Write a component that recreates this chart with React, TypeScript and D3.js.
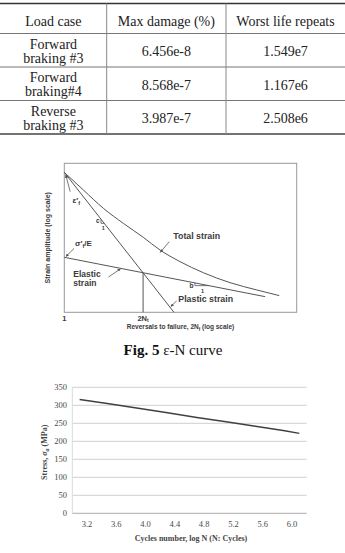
import React from "react";
import * as d3 from "d3";

// ---------- Table data ----------
const tableHeaders = ["Load case", "Max damage (%)", "Worst life repeats"];
const loadCases = [
  ["Forward", "braking #3"],
  ["Forward", "braking#4"],
  ["Reverse", "braking #3"],
];
const maxDamage = ["6.456e-8", "8.568e-7", "3.987e-7"];
const worstLife = ["1.549e7", "1.167e6", "2.508e6"];

// ---------- Schematic e-N curve (arbitrary log units, 0..100) ----------
const plasticLine: [number, number][] = [[0, 93.9], [47.2, 0]];
const elasticLine: [number, number][] = [[0, 36.9], [86.4, 10.5]];
const totalStrain: [number, number][] = [
  [0, 93.9], [8.2, 82.1], [16.8, 69.8], [25.4, 59.7], [34.0, 50.3],
  [41.2, 41.8], [49.8, 34.0], [59.8, 26.6], [71.3, 19.9], [82.8, 15.0], [92.5, 11.2],
];
const transitionLine: [number, number][] = [[33.9, 26.4], [33.9, 0]];

// ---------- S-N chart data ----------
const logN = [3.1, 3.5, 3.9, 4.3, 4.7, 5.1, 5.5, 5.9, 6.1];
const stress = [316, 304, 292, 279, 266, 254, 242, 229, 222];
const xTicks = [3.2, 3.6, 4.0, 4.4, 4.8, 5.2, 5.6, 6.0];
const yTicks = [0, 50, 100, 150, 200, 250, 300, 350];

const serif = "'Liberation Serif', 'Times New Roman', serif";
const sans = "'Liberation Sans', Arial, sans-serif";

export default function App() {
  // table geometry
  const colX = [0, 106.7, 226, 345];
  const rowY = [3.5, 33.5, 67, 100.5, 134];
  const colC = [0, 1, 2].map((i) => (colX[i] + colX[i + 1]) / 2);

  // schematic scales
  const su = d3.scaleLinear().domain([0, 100]).range([64.3, 296.7]);
  const sv = d3.scaleLinear().domain([0, 100]).range([312.3, 163.3]);
  const sLine = d3.line<[number, number]>().x((d) => su(d[0])).y((d) => sv(d[1]));
  const sCurve = d3
    .line<[number, number]>()
    .x((d) => su(d[0]))
    .y((d) => sv(d[1]))
    .curve(d3.curveMonotoneX);

  const pv = (u: number) => 93.9 - (93.9 / 47.2) * u;
  const pu = (v: number) => (93.9 - v) * (47.2 / 93.9);
  const ev = (u: number) => 36.9 - ((36.9 - 10.5) / 86.4) * u;
  const eu = (v: number) => (36.9 - v) * (86.4 / (36.9 - 10.5));
  const cU = 15.8, cV = 59.7;
  const bU = 56.2, bV = 17.9;

  // S-N chart scales
  const x = d3.scaleLinear().domain([3.0, 6.2]).range([72.3, 306.7]);
  const y = d3.scaleLinear().domain([0, 350]).range([513.3, 387.3]);
  const snLine = d3
    .line<number>()
    .x((_, i) => x(logN[i]))
    .y((d) => y(d));

  const labelStyle = { fontFamily: sans, fontWeight: 700, fill: "#3a3a3a" } as const;

  return (
    <svg
      width={345}
      height={553}
      style={{ position: "absolute", left: 0, top: 0, background: "#fff" }}
    >
      <defs>
        <marker id="ah" viewBox="0 0 6 6" refX="5.5" refY="3" markerWidth="4" markerHeight="4" orient="auto">
          <path d="M0,0 L6,3 L0,6 z" fill="#555" />
        </marker>
      </defs>

      {/* ---------------- Table ---------------- */}
      <g>
        <line x1={0} x2={345} y1={rowY[0]} y2={rowY[0]} stroke="#333" strokeWidth={1.6} />
        {[1, 2, 3].map((r) => (
          <line key={r} x1={0} x2={345} y1={rowY[r]} y2={rowY[r]} stroke="#777" strokeWidth={1} />
        ))}
        <line x1={0} x2={345} y1={rowY[4]} y2={rowY[4]} stroke="#444" strokeWidth={1.3} />
        {[1, 2].map((c) => (
          <line key={c} x1={colX[c]} x2={colX[c]} y1={rowY[0]} y2={rowY[4]} stroke="#888" strokeWidth={1} />
        ))}
        {tableHeaders.map((h, i) => (
          <text key={h} x={colC[i]} y={25.5} textAnchor="middle" fontFamily={serif} fontSize={14} fill="#222">
            {h}
          </text>
        ))}
        {loadCases.map((lc, r) => (
          <g key={r}>
            <text x={colC[0]} y={rowY[r + 1] + 15} textAnchor="middle" fontFamily={serif} fontSize={14} fill="#222">
              {lc[0]}
            </text>
            <text x={colC[0]} y={rowY[r + 1] + 29} textAnchor="middle" fontFamily={serif} fontSize={14} fill="#222">
              {lc[1]}
            </text>
            <text x={colC[1]} y={rowY[r + 1] + 22.5} textAnchor="middle" fontFamily={serif} fontSize={14} fill="#222">
              {maxDamage[r]}
            </text>
            <text x={colC[2]} y={rowY[r + 1] + 22.5} textAnchor="middle" fontFamily={serif} fontSize={14} fill="#222">
              {worstLife[r]}
            </text>
          </g>
        ))}
      </g>

      {/* ---------------- Schematic e-N ---------------- */}
      <g>
        <rect x={su(0)} y={sv(100)} width={su(100) - su(0)} height={sv(0) - sv(100)} fill="none" stroke="#999" strokeWidth={1} />
        <path d={sLine(plasticLine) || ""} fill="none" stroke="#555" strokeWidth={1} />
        <path d={sLine(elasticLine) || ""} fill="none" stroke="#555" strokeWidth={1} />
        <path d={sCurve(totalStrain) || ""} fill="none" stroke="#555" strokeWidth={1} />
        <path d={sLine(transitionLine) || ""} fill="none" stroke="#555" strokeWidth={1} />

        {/* slope triangles */}
        <path
          d={`M${su(cU)},${sv(pv(cU))} L${su(cU)},${sv(cV)} L${su(pu(cV))},${sv(cV)}`}
          fill="none" stroke="#555" strokeWidth={0.8}
        />
        <text x={su(cU) - 5} y={sv(cV) - 0.5} fontSize={6.5} {...labelStyle}>c</text>
        <text x={su(cU) + 0.8} y={sv(cV) + 6.5} fontSize={5.5} {...labelStyle}>1</text>

        <path
          d={`M${su(bU)},${sv(ev(bU))} L${su(bU)},${sv(bV)} L${su(eu(bV))},${sv(bV)}`}
          fill="none" stroke="#555" strokeWidth={0.8}
        />
        <text x={su(bU) - 5.5} y={sv(bV) + 2.5} fontSize={6.5} {...labelStyle}>b</text>
        <text x={su(bU) + 6} y={sv(bV) + 7} fontSize={5.5} {...labelStyle}>1</text>

        {/* annotation arrows */}
        <line x1={70.2} y1={191.7} x2={65.8} y2={175} stroke="#555" strokeWidth={0.8} markerEnd="url(#ah)" />
        <line x1={74} y1={248.5} x2={65.9} y2={256.5} stroke="#555" strokeWidth={0.8} markerEnd="url(#ah)" />
        <line x1={108.5} y1={277} x2={120.5} y2={268.8} stroke="#555" strokeWidth={0.8} markerEnd="url(#ah)" />
        <line x1={169.3} y1={241.7} x2={160.3} y2={252.3} stroke="#555" strokeWidth={0.8} markerEnd="url(#ah)" />
        <line x1={176.7} y1={300.7} x2={170.9} y2={306.5} stroke="#555" strokeWidth={0.8} markerEnd="url(#ah)" />

        {/* labels */}
        <text x={72.5} y={203} fontSize={8} {...labelStyle}>
          ε′<tspan fontSize={5.5} dy={2}>f</tspan>
        </text>
        <text x={75} y={246} fontSize={8} {...labelStyle}>
          σ′<tspan fontSize={5.5} dy={2}>f</tspan><tspan dy={-2}>/E</tspan>
        </text>
        <text x={73.3} y={276.5} fontSize={8.5} {...labelStyle}>Elastic</text>
        <text x={73.3} y={286} fontSize={8.5} {...labelStyle}>strain</text>
        <text x={173.3} y={239} fontSize={8.8} {...labelStyle}>Total strain</text>
        <text x={178.3} y={302} fontSize={8.8} {...labelStyle}>Plastic strain</text>

        <text
          transform={`translate(50,${(sv(100) + sv(0)) / 2}) rotate(-90)`}
          textAnchor="middle" fontSize={7} {...labelStyle}
        >
          Strain amplitude (log scale)
        </text>
        <text x={su(0)} y={320.5} textAnchor="middle" fontSize={7.5} {...labelStyle}>1</text>
        <text x={su(33.9)} y={320.5} textAnchor="middle" fontSize={7.5} {...labelStyle}>
          2N<tspan fontSize={5} dy={1.5}>t</tspan>
        </text>
        <text x={(su(0) + su(100)) / 2} y={329} textAnchor="middle" fontSize={6.5} {...labelStyle}>
          Reversals to failure, 2N<tspan fontSize={4.5} dy={1.5}>f</tspan>
          <tspan dy={-1.5}> (log scale)</tspan>
        </text>
      </g>

      {/* caption */}
      <text x={173} y={354.5} textAnchor="middle" fontFamily={serif} fontSize={15} fill="#111">
        <tspan fontWeight={700}>Fig. 5</tspan> ε-N curve
      </text>

      {/* ---------------- S-N chart ---------------- */}
      <g>
        {yTicks.map((t) => (
          <line
            key={t}
            x1={x(3.0)} x2={x(6.2)} y1={y(t)} y2={y(t)}
            stroke={t === 0 ? "#bdbdbd" : "#d9d9d9"} strokeWidth={1.2}
          />
        ))}
        <line x1={x(3.0)} x2={x(3.0)} y1={y(350)} y2={y(0)} stroke="#d9d9d9" strokeWidth={1} />
        {yTicks.map((t) => (
          <text key={t} x={67} y={y(t) + 3} textAnchor="end" fontFamily={serif} fontSize={8.5} fill="#4a4a4a">
            {t}
          </text>
        ))}
        {xTicks.map((t) => (
          <text key={t} x={x(t)} y={526.5} textAnchor="middle" fontFamily={serif} fontSize={8.5} fill="#4a4a4a">
            {t.toFixed(1)}
          </text>
        ))}
        <path d={snLine(stress) || ""} fill="none" stroke="#404040" strokeWidth={1.5} />
        <text x={191} y={541} textAnchor="middle" fontFamily={serif} fontWeight={700} fontSize={8} fill="#444">
          Cycles number, log N (N: Cycles)
        </text>
        <text
          transform={`translate(47,${(y(0) + y(350)) / 2 + 2}) rotate(-90)`}
          textAnchor="middle" fontFamily={serif} fontWeight={700} fontSize={8} fill="#444"
        >
          Stress, <tspan fontStyle="italic">σ</tspan>
          <tspan fontSize={6} dy={1.5} fontStyle="italic">a</tspan>
          <tspan dy={-1.5}> (MPa)</tspan>
        </text>
      </g>
    </svg>
  );
}
